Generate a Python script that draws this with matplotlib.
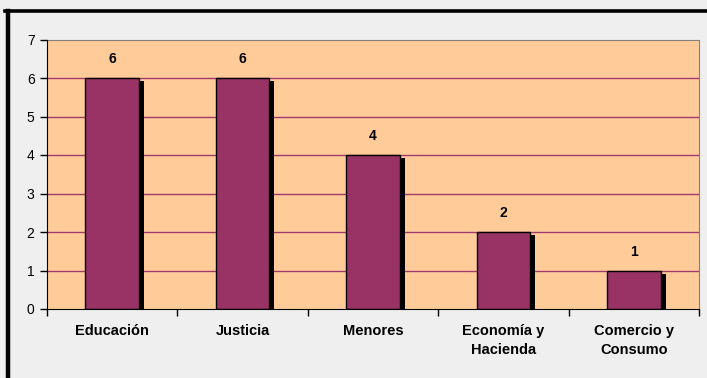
import matplotlib
matplotlib.use('Agg')
import matplotlib.pyplot as plt
import matplotlib.patheffects as pe
from matplotlib.lines import Line2D
import numpy as np

areas = ['Educación', 'Justicia', 'Menores', 'Economía y\nHacienda', 'Comercio y\nConsumo']
counts = [6, 6, 4, 2, 1]

plt.rcParams['font.family'] = ['Liberation Sans', 'DejaVu Sans']

fig = plt.figure(figsize=(7.07, 3.78), dpi=100, facecolor='#efefef')
ax = fig.add_axes([47 / 707, 1 - 309 / 378, 652 / 707, 269.5 / 378])
ax.set_facecolor('#ffcc99')

x = np.arange(len(areas))
bars = ax.bar(x, counts, width=0.41, color='#993366', edgecolor='black',
              linewidth=1, zorder=3)
for b in bars:
    b.set_path_effects([pe.SimplePatchShadow(offset=(3.6, -2.2), shadow_rgbFace='black', alpha=1.0),
                        pe.Normal()])

ax.bar_label(bars, labels=[str(c) for c in counts], padding=8.5,
             fontsize=10, fontweight='bold', zorder=4)

ax.set_xlim(-0.5, len(areas) - 0.5)
ax.set_ylim(0, 7)
ax.set_yticks(range(0, 8))
ax.tick_params(axis='y', labelsize=10, length=5, width=1, pad=4)
ax.set_xticks(x)
ax.set_xticklabels(areas, fontsize=10.5, fontweight='bold', linespacing=1.45)
ax.tick_params(axis='x', length=0, pad=11)
# category separators on the x axis
ax.set_xticks(np.arange(len(areas) + 1) - 0.5, minor=True)
ax.tick_params(axis='x', which='minor', length=5, width=1, direction='out')

for v in range(1, 7):
    ax.axhline(v, color='#a03a6c', linewidth=1, zorder=1)

for side in ('top', 'right'):
    ax.spines[side].set_color('#808080')
for side in ('left', 'bottom'):
    ax.spines[side].set_color('black')
    ax.spines[side].set_zorder(5)

# frame around the chart
fig.add_artist(Line2D([5 / 707, 1], [1 - 11 / 378, 1 - 11 / 378], color='black', linewidth=2.6))
fig.add_artist(Line2D([7.5 / 707, 7.5 / 707], [0, 1 - 11 / 378], color='black', linewidth=3.2))

fig.savefig('out.png', dpi=100, facecolor=fig.get_facecolor())
